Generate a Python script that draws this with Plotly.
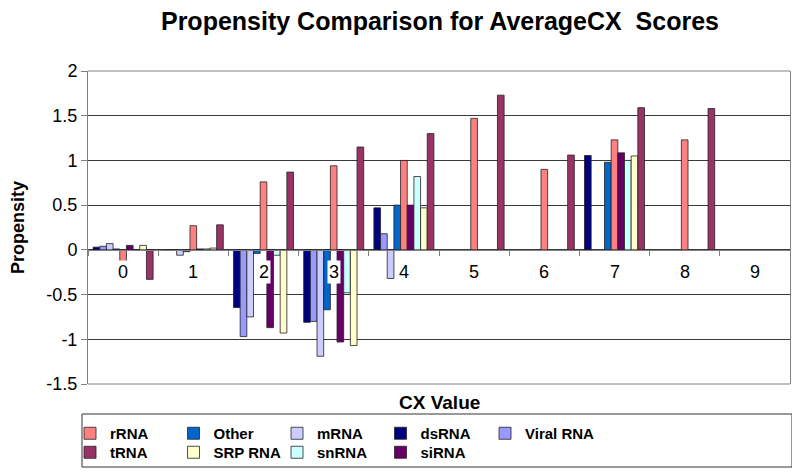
import plotly.graph_objects as go

categories = ["0", "1", "2", "3", "4", "5", "6", "7", "8", "9"]

# series in the order they appear within each group
dsRNA    = [0.03, 0.00, -0.645, -0.81, 0.47, None, None, 1.055, None, None]
viralRNA = [0.04, 0.00, -0.97, -0.80, 0.18, None, None, None, None, None]
mRNA     = [0.07, -0.06, -0.75, -1.19, -0.32, None, None, None, None, None]
other    = [0.01, -0.02, -0.04, -0.67, 0.50, None, None, 0.98, None, None]
rRNA     = [-0.23, 0.27, 0.76, 0.94, 1.00, 1.47, 0.90, 1.23, 1.23, None]
siRNA    = [0.05, 0.01, -0.87, -1.03, 0.50, None, None, 1.085, None, None]
snRNA    = [0.00, 0.01, -0.06, -0.48, 0.82, None, None, 1.00, None, None]
srpRNA   = [0.05, 0.02, -0.93, -1.07, 0.47, None, None, 1.05, None, None]
tRNA     = [-0.33, 0.28, 0.87, 1.15, 1.30, 1.73, 1.06, 1.59, 1.58, None]

# (name, values, colour, legend group, rank within legend)
series = [
    ("dsRNA", dsRNA, "#000080", "legend", 4),
    ("Viral RNA", viralRNA, "#9999FF", "legend3", 5),
    ("mRNA", mRNA, "#CCCCFF", "legend", 3),
    ("Other", other, "#0066CC", "legend", 2),
    ("rRNA", rRNA, "#FF8080", "legend", 1),
    ("siRNA", siRNA, "#660066", "legend2", 9),
    ("snRNA", snRNA, "#CCFFFF", "legend2", 8),
    ("SRP RNA", srpRNA, "#FFFFCC", "legend2", 7),
    ("tRNA", tRNA, "#993366", "legend2", 6),
]

fig = go.Figure()
for name, vals, color, leg, rank in series:
    fig.add_trace(go.Bar(
        x=categories, y=vals, name=name, legend=leg, legendrank=rank,
        marker=dict(color=color, line=dict(color="#222222", width=0.8)),
    ))

FONT = "Liberation Sans, Arial, sans-serif"
H = 313.0  # plot height in px
W = 702.0  # plot width in px


def py(p):
    # page pixel row -> paper y (plot bottom at page row 384)
    return (384 - p) / H


legend_common = dict(orientation="h", xanchor="left", yanchor="top",
                     entrywidthmode="pixels", itemwidth=30,
                     font=dict(size=15, family=FONT, color="black", weight="bold"),
                     bgcolor="rgba(0,0,0,0)", traceorder="normal",
                     borderwidth=0)

LX = -0.037 + 8 / W

fig.update_layout(
    width=800, height=473,
    margin=dict(l=80, r=18, t=63, b=97, autoexpand=False),
    paper_bgcolor="white", plot_bgcolor="white",
    barmode="group", bargap=0.145, bargroupgap=0,
    font=dict(family=FONT, color="black"),
    title=dict(text="<b>Propensity Comparison for AverageCX  Scores</b>",
               x=0.540, xanchor="center", y=1 - 13 / 473, yanchor="middle",
               font=dict(size=25, family=FONT, color="black")),
    showlegend=True,
    legend=dict(x=LX, y=py(417), entrywidth=58.5, **legend_common),
    legend2=dict(x=LX, y=py(436), entrywidth=58.5, **legend_common),
    legend3=dict(x=LX + 4 * 103.75 / W, y=py(417), entrywidth=0, **legend_common),
    xaxis=dict(type="category", range=[-0.5, 9.5],
               anchor="free", position=1.5 / 3.5,
               showline=True, linecolor="#808080", linewidth=1,
               ticks="outside", tickson="boundaries", ticklen=5, tickcolor="#808080",
               showticklabels=False, showgrid=False, zeroline=False),
    yaxis=dict(range=[-1.5, 2], tickvals=[-1.5, -1, -0.5, 0, 0.5, 1, 1.5, 2],
               ticktext=["-1.5", "-1", "-0.5", "0", "0.5", "1", "1.5", "2"],
               showgrid=True, gridcolor="#3a3a3a", gridwidth=1,
               zeroline=False, showline=True, linecolor="#808080", linewidth=1,
               mirror=True,
               ticks="outside", ticklen=6, tickcolor="#808080",
               tickfont=dict(size=18, family=FONT, color="black"),
               title=dict(text="<b>Propensity</b>", standoff=21,
                          font=dict(size=18, family=FONT, color="black"))),
)

# category labels next to the zero axis with white background
for c in categories:
    fig.add_annotation(x=c, y=0, xref="x", yref="y", text=c, showarrow=False,
                       yanchor="middle", yshift=-22, bgcolor="white",
                       font=dict(size=18, family=FONT, color="black"))

# x axis title
fig.add_annotation(x=0.5, y=0, xref="paper", yref="paper", text="<b>CX Value</b>",
                   showarrow=False, yanchor="middle", yshift=-18,
                   font=dict(size=19, family=FONT, color="black"))

# legend frame and plot top/bottom border
fig.add_shape(type="rect", xref="paper", yref="paper",
              x0=(82 - 88) / W, x1=(792 - 88) / W, y0=py(467), y1=py(414),
              line=dict(color="#333333", width=1), fillcolor="rgba(0,0,0,0)")
for yy in (0, 1):
    fig.add_shape(type="line", xref="paper", yref="paper", x0=0, x1=1, y0=yy, y1=yy,
                  line=dict(color="#808080", width=1))

fig.write_html("out.html")
